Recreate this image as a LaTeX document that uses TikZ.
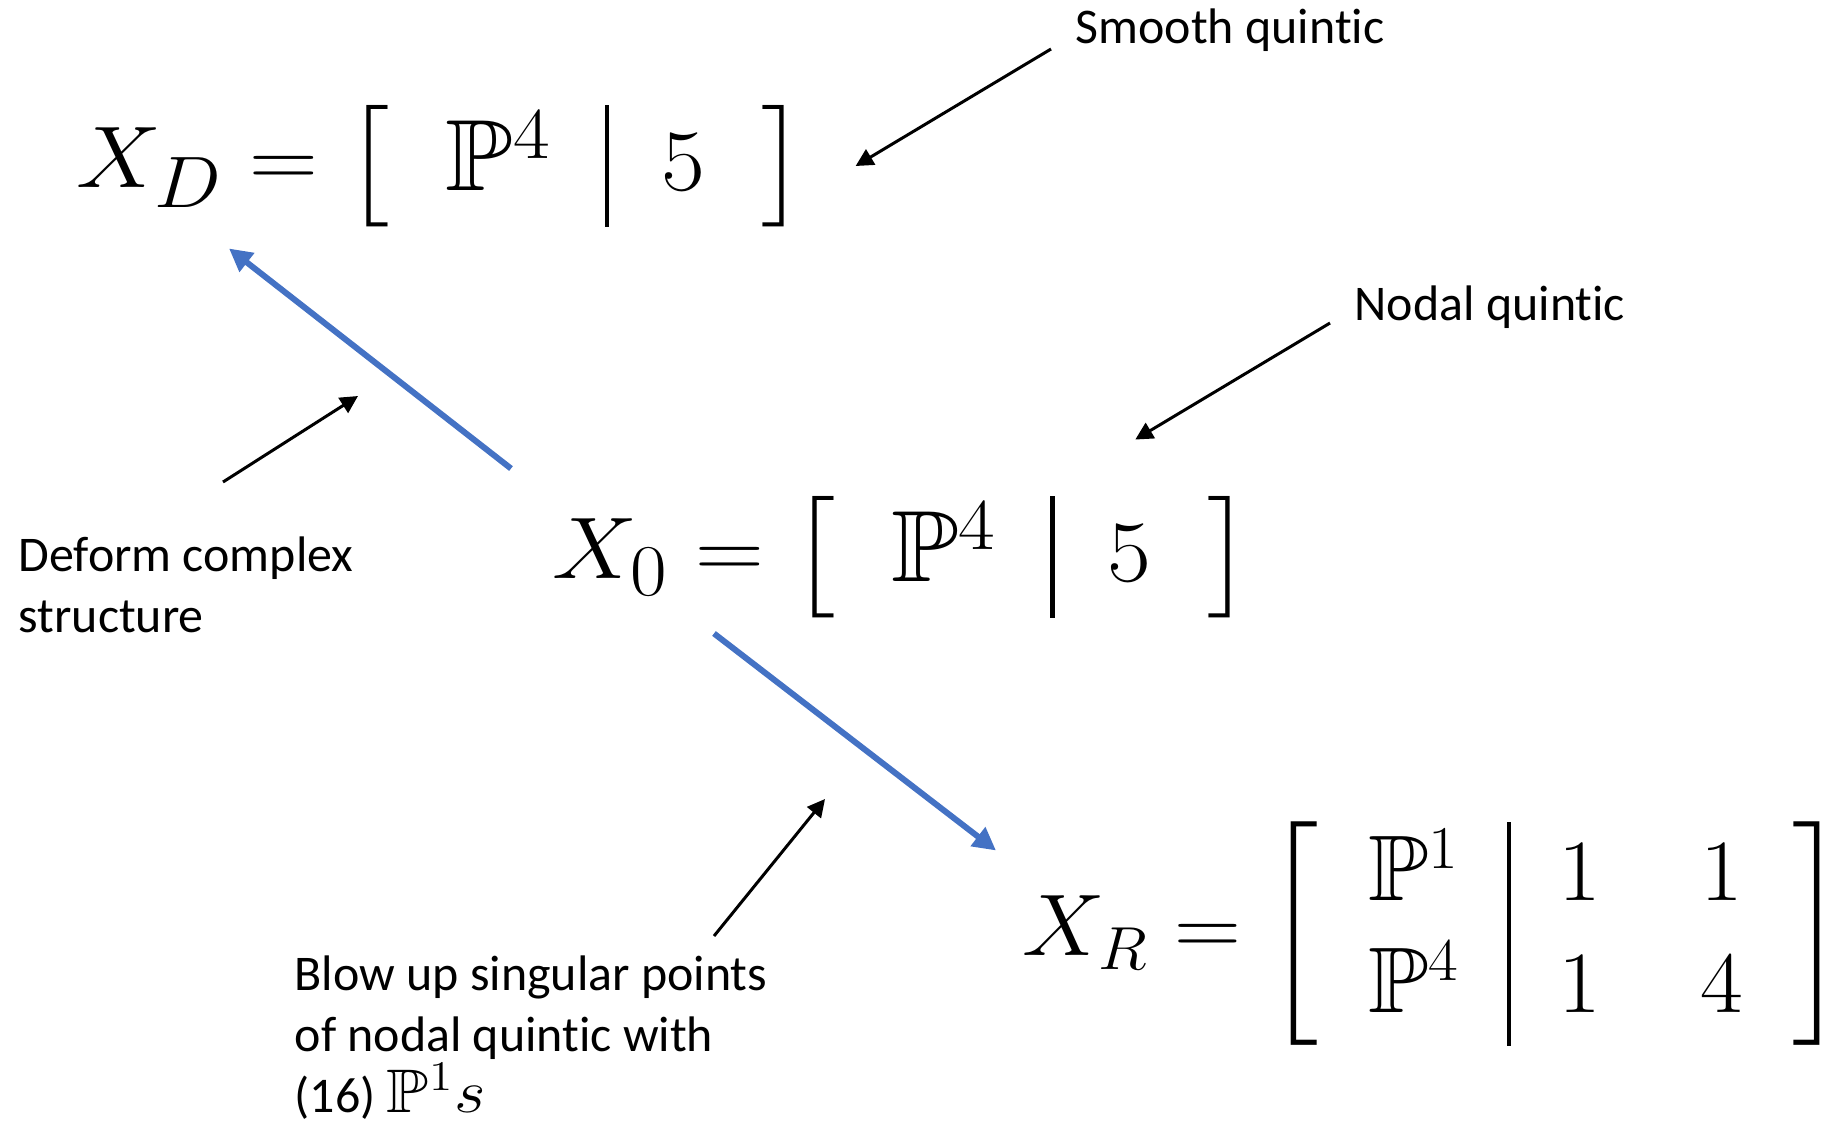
\documentclass[tikz,border=0pt]{standalone}
\usepackage{amsmath,amssymb}
\usepackage[no-math]{fontspec}
\usepackage{xcolor}
\usepackage{tikz}
\usetikzlibrary{arrows.meta,positioning,calc}
\newfontfamily\lblfont{Carlito}[Ligatures=NoCommon]
\definecolor{flowblue}{HTML}{4472C4}

\begin{document}
\begin{tikzpicture}[x=0.01cm,y=-0.01cm,
  fml/.style={inner sep=0pt,font=\fontsize{28.8}{34.56}\selectfont\setlength{\arraycolsep}{0.5em}\setlength{\arrayrulewidth}{0.04em}},
  fmlsmall/.style={fml,font=\fontsize{26.5}{31.8}\selectfont\setlength{\arraycolsep}{0.5em}\setlength{\arrayrulewidth}{0.04em}},
  lbl/.style={inner sep=0pt,align=left,font=\lblfont\fontsize{14.2}{17.4}\selectfont},
  flow/.style={draw=flowblue,line width=1.7pt,-{Triangle[length=6.5pt,width=6.5pt]}},
  note/.style={draw=black,line width=0.85pt,-{Triangle[length=5pt,width=5pt]}}]
\useasboundingbox (0,0) rectangle (1842,1123);

% the three spaces
\node[fml,anchor=west] (XD) at (76,166)
  {\scalebox{1.09}[1]{$X_D = \left[\begin{array}{c|c} \mathbb{P}^4 & 5 \end{array}\right]$}};
\node[fml,anchor=west] (X0) at (552,557)
  {\scalebox{1.09}[1]{$X_0 = \left[\begin{array}{c|c} \mathbb{P}^4 & 5 \end{array}\right]$}};
\node[fmlsmall,anchor=west] (XR) at (1022,934)
  {\scalebox{1.06}[1]{$X_R = \left[\begin{array}{c|cc} \mathbb{P}^1 & 1 & 1\\ \mathbb{P}^4 & 1 & 4 \end{array}\right]$}};

% labels
\node[lbl,anchor=base west] (smooth) at (1075,43) {Smooth quintic};
\node[lbl,anchor=base west] (nodal) at (1354,320) {Nodal quintic};
\node[lbl,anchor=north west] (deform) at (18,536) {Deform complex\\structure};
\node[lbl,anchor=north west] (blowup) at (294,955)
  {Blow up singular points\\of nodal quintic with\\(16) {\fontsize{17.5}{17.4}\selectfont\scalebox{1.12}[1]{$\mathbb{P}^1 s$}}};

\draw[flow] ([shift={(-41,-27)}]X0.north west) -- ([shift={(153,21)}]XD.south west);
\draw[flow] ([shift={(162,15)}]X0.south west) -- ([shift={(-26,29)}]XR.north west);

\coordinate (deformtip) at (358,396);
\coordinate (blowtip) at (825,799);
\draw[note] ([shift={(-24,6)}]smooth.base west) -- ([shift={(48,0)}]XD.east);
\draw[note] ([shift={(-24,3)}]nodal.base west) -- ([shift={(-118,-56)}]X0.north east);
\draw[note] ([shift={(205,-54)}]deform.north west) -- (deformtip);
\draw[note] ([shift={(420,-19)}]blowup.north west) -- (blowtip);
\end{tikzpicture}
\end{document}
